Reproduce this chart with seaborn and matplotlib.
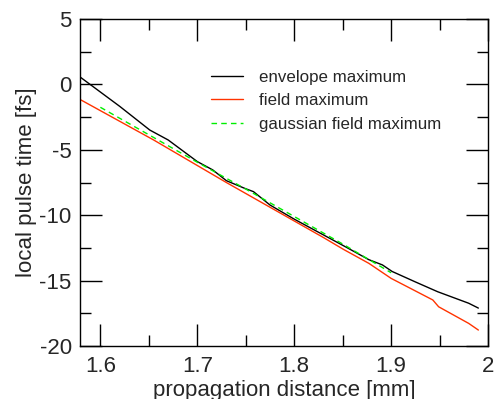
import matplotlib
matplotlib.use("Agg")
import matplotlib.pyplot as plt
import numpy as np
import pandas as pd
import seaborn as sns
from matplotlib.ticker import MultipleLocator

# envelope maximum (black)
env_x = [1.579, 1.62, 1.651, 1.67, 1.70, 1.716, 1.73, 1.749, 1.758, 1.775,
         1.80, 1.83, 1.855, 1.877, 1.891, 1.901, 1.925, 1.948, 1.98, 1.99]
env_y = [0.57, -1.68, -3.49, -4.25, -5.9, -6.54, -7.36, -7.95, -8.2, -9.22,
         -10.3, -11.5, -12.5, -13.4, -13.8, -14.3, -15.1, -15.85, -16.73, -17.1]

# field maximum (red)
field_x = [1.579, 1.655, 1.73, 1.83, 1.851, 1.877, 1.90, 1.943, 1.949, 1.98, 1.99]
field_y = [-1.15, -4.25, -7.5, -11.7, -12.62, -13.68, -14.83, -16.48, -17.0, -18.27, -18.78]

# gaussian field maximum (green dashed)
gauss_x = [1.60, 1.65, 1.70, 1.75, 1.80, 1.85, 1.90]
gauss_y = [-1.75, -3.85, -5.95, -8.0, -10.1, -12.2, -14.4]

sns.set_style("ticks")
plt.rcParams["font.family"] = ["Liberation Sans", "DejaVu Sans"]

fig = plt.figure(figsize=(4.96, 3.99), dpi=100)
ax = fig.add_axes([0.1613, 0.1328, 0.8227, 0.8196])

sns.lineplot(x=env_x, y=env_y, ax=ax, color="black", lw=1.0, sort=False,
             estimator=None, label="envelope maximum")
sns.lineplot(x=field_x, y=field_y, ax=ax, color="#ff3300", lw=1.0, sort=False,
             estimator=None, label="field maximum")
sns.lineplot(x=gauss_x, y=gauss_y, ax=ax, color="#00ee00", lw=1.0, sort=False,
             estimator=None, label="gaussian field maximum", dashes=False,
             linestyle=(0, (4, 3)))

ax.set_xlim(1.579, 2.0)
ax.set_ylim(-20, 5)
ax.xaxis.set_minor_locator(MultipleLocator(0.05))
ax.yaxis.set_minor_locator(MultipleLocator(2.5))
ax.set_xticks([1.6, 1.7, 1.8, 1.9, 2.0])
ax.set_xticklabels(["1.6", "1.7", "1.8", "1.9", "2"])
ax.set_yticks([5, 0, -5, -10, -15, -20])
ax.set_yticklabels(["5", "0", "-5", "-10", "-15", "-20"])

ax.tick_params(which="both", direction="in", top=True, right=True,
               labelsize=16, width=1.0, color="black")
ax.tick_params(axis="x", pad=7)
ax.tick_params(axis="y", pad=6)
ax.tick_params(which="major", length=16)
ax.tick_params(which="minor", length=8)
for side in ax.spines.values():
    side.set_linewidth(1.0)
    side.set_color("black")

ax.set_xlabel("propagation distance [mm]", fontsize=16, labelpad=2)
ax.set_ylabel("local pulse time [fs]", fontsize=16, labelpad=2)

ax.legend(loc="upper left", bbox_to_anchor=(0.32, 0.845), frameon=False,
          fontsize=12.2, handlelength=1.9, handletextpad=0.95, labelspacing=0.5,
          borderpad=0, borderaxespad=0)

fig.savefig("out.png", dpi=100)
